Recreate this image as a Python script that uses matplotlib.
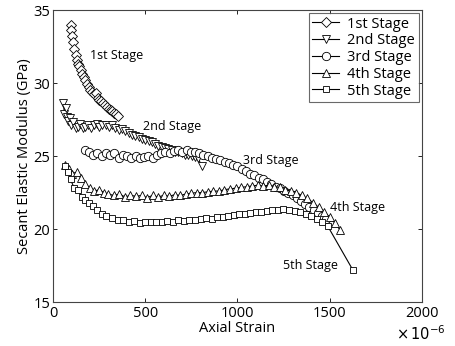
import matplotlib
matplotlib.use("Agg")
import matplotlib.pyplot as plt

plt.rcParams['font.family'] = ['Open Sans', 'DejaVu Sans']

s1_x = [96, 100, 105, 110, 116, 122, 128, 135, 142, 150, 158, 166, 175, 184, 193, 202, 212, 222, 232, 242,
        252, 262, 272, 282, 292, 302, 312, 322, 332, 342, 354]
s1_y = [34.0, 33.6, 33.2, 32.8, 32.3, 31.9, 31.6, 31.3, 31.2, 30.9, 30.6, 30.4, 30.2, 29.95, 29.75, 29.55, 29.4,
        29.25, 29.3, 29.0, 28.85, 28.75, 28.6, 28.5, 28.35, 28.25, 28.15, 28.1, 27.95, 27.85, 27.75]

s2_x = [56, 62, 68, 75, 82, 90, 100, 110, 122, 135, 148, 162, 176, 190, 205, 220, 236, 252, 268, 285,
        302, 320, 338, 356, 374, 392, 410, 428, 446, 464, 482, 500, 518, 536, 554, 572, 590, 608, 626, 644,
        662, 680, 698, 716, 734, 752, 770, 788, 806]
s2_y = [28.6, 27.9, 28.3, 27.7, 27.4, 27.6, 27.1, 27.3, 26.9, 27.0, 27.2, 26.9, 27.0, 27.1, 26.95, 27.1, 27.2,
        27.0, 27.1, 27.15, 27.0, 27.1, 26.9, 26.8, 26.85, 26.7, 26.6, 26.45, 26.35, 26.3, 26.2, 26.1, 26.0,
        25.95, 25.8, 25.7, 25.65, 25.55, 25.5, 25.4, 25.3, 25.25, 25.2, 25.1, 25.05, 25.0, 24.95, 24.85, 24.3]

s3_x = [173, 195, 218, 241, 264, 287, 310, 333, 356, 379, 402, 425, 448, 471, 494, 517, 540, 563, 586, 609,
        632, 655, 678, 701, 724, 747, 770, 793, 816, 839, 862, 885, 908, 931, 954, 977, 1000, 1023, 1046, 1069,
        1092, 1115, 1138, 1161, 1184, 1207, 1230, 1253, 1276, 1299, 1322, 1345, 1368, 1391, 1414, 1437, 1460, 1480]
s3_y = [25.4, 25.3, 25.1, 25.2, 25.0, 25.2, 25.1, 25.2, 24.9, 25.1, 25.0, 24.9, 25.0, 24.85, 24.95, 25.0, 24.9,
        25.1, 25.2, 25.3, 25.2, 25.35, 25.4, 25.3, 25.4, 25.3, 25.3, 25.2, 25.1, 25.0, 24.9, 24.8, 24.7, 24.6,
        24.5, 24.4, 24.3, 24.1, 24.0, 23.8, 23.7, 23.5, 23.4, 23.2, 23.1, 22.9, 22.8, 22.6, 22.5, 22.3, 22.1,
        21.9, 21.7, 21.5, 21.3, 21.1, 20.9, 20.7]

s4_x = [65, 85, 105, 128, 150, 175, 200, 225, 250, 275, 300, 330, 360, 390, 420, 450, 480, 510, 540, 570,
        600, 630, 660, 690, 720, 750, 780, 810, 840, 870, 900, 930, 960, 990, 1020, 1050, 1080, 1110, 1140, 1170,
        1200, 1230, 1260, 1290, 1320, 1350, 1380, 1410, 1440, 1470, 1500, 1530, 1556]
s4_y = [24.4, 24.1, 23.8, 23.9, 23.5, 23.1, 22.8, 22.6, 22.7, 22.5, 22.4, 22.3, 22.4, 22.2, 22.3, 22.25, 22.3,
        22.15, 22.3, 22.2, 22.3, 22.25, 22.35, 22.3, 22.4, 22.45, 22.5, 22.5, 22.55, 22.6, 22.6, 22.7, 22.75,
        22.8, 22.85, 22.9, 22.95, 23.0, 22.95, 23.0, 22.9, 22.85, 22.7, 22.6, 22.5, 22.3, 22.1, 21.8, 21.5,
        21.2, 20.8, 20.4, 19.95]

s5_x = [65, 80, 95, 115, 135, 155, 175, 195, 215, 240, 265, 290, 320, 350, 380, 410, 440, 470, 500, 530,
        560, 590, 620, 650, 680, 710, 740, 770, 800, 830, 860, 890, 920, 950, 980, 1010, 1040, 1070, 1100, 1130,
        1160, 1190, 1220, 1250, 1280, 1310, 1340, 1370, 1400, 1430, 1460, 1490, 1626]
s5_y = [24.3, 23.9, 23.4, 22.8, 22.7, 22.2, 22.0, 21.8, 21.6, 21.3, 21.0, 20.9, 20.75, 20.6, 20.65, 20.5, 20.55,
        20.4, 20.45, 20.5, 20.45, 20.5, 20.55, 20.5, 20.6, 20.55, 20.65, 20.6, 20.7, 20.75, 20.7, 20.8, 20.85,
        20.9, 20.95, 21.0, 21.05, 21.1, 21.15, 21.2, 21.25, 21.3, 21.3, 21.35, 21.3, 21.25, 21.2, 21.05, 20.9,
        20.7, 20.45, 20.2, 17.2]

labels = ['1st Stage', '2nd Stage', '3rd Stage', '4th Stage', '5th Stage']
markers = ['D', 'v', 'o', '^', 's']
msizes = [5, 6, 6, 6, 5]
series = [(s1_x, s1_y), (s2_x, s2_y), (s3_x, s3_y), (s4_x, s4_y), (s5_x, s5_y)]

# annotation positions (strain, modulus)
ann_x = [200, 488, 1030, 1500, 1248]
ann_y = [31.9, 27.05, 24.7, 21.5, 17.47]

x_ticks = [0, 500, 1000, 1500, 2000]
y_ticks = [15, 20, 25, 30, 35]

fig = plt.figure(figsize=(4.55, 3.46), dpi=100)
ax = fig.add_axes([0.1165, 0.127, 0.8105, 0.844])

for (xs, ys), lab, m, ms in zip(series, labels, markers, msizes):
    ax.plot(xs, ys, color='black', lw=0.8, marker=m, markersize=ms,
            markerfacecolor='white', markeredgecolor='black', markeredgewidth=0.6, label=lab)

for lab, x, y in zip(labels, ann_x, ann_y):
    ax.text(x, y, lab, fontsize=9, va='center', ha='left')

ax.set_xlim(0, 2000)
ax.set_ylim(15, 35)
ax.set_xticks(x_ticks)
ax.set_yticks(y_ticks)
ax.tick_params(direction='in', top=True, right=True, length=3, width=0.6, labelsize=10.5)
ax.tick_params(axis='x', pad=3)
ax.tick_params(axis='y', pad=2)
for sp in ax.spines.values():
    sp.set_linewidth(0.8)
    sp.set_color('#444444')

ax.set_xlabel('Axial Strain', fontsize=10.5, labelpad=0)
ax.set_ylabel('Secant Elastic Modulus (GPa)', fontsize=10.5, labelpad=1)
fig.text(0.925, 0.033, r'$\times\,10^{-6}$', fontsize=10.5, ha='center', va='center')

leg = ax.legend(loc='upper right', fontsize=10.5, frameon=True, fancybox=False, edgecolor='#444444',
                borderpad=0.25, labelspacing=0.12, handlelength=1.8, handletextpad=0.6,
                borderaxespad=0.2)
leg.get_frame().set_linewidth(0.8)

fig.savefig('out.png', dpi=100)
